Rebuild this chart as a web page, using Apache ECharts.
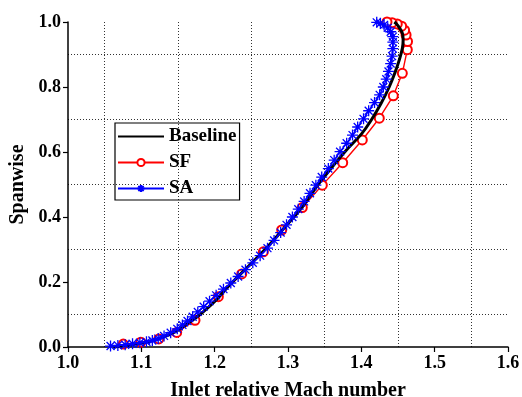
<!DOCTYPE html>
<html>
<head>
<meta charset="utf-8">
<script src="https://cdn.jsdelivr.net/npm/echarts@6/dist/echarts.min.js"></script>
<style>html,body{margin:0;padding:0;background:#fff}#c{width:522px;height:397px}</style>
</head>
<body>
<div id="c"></div>
<script>
const xTicks = [1.0, 1.1, 1.2, 1.3, 1.4, 1.5, 1.6];
const yTicks = [0.0, 0.2, 0.4, 0.6, 0.8, 1.0];
const seriesNames = ['Baseline', 'SF', 'SA'];

const baselineMach = [1.062,1.075,1.09,1.105,1.12,1.135,1.15,1.165,1.18,1.2,1.22,1.24,1.26,1.28,1.30,1.32,1.341,1.36,1.38,1.40,1.414,1.427,1.438,1.446,1.452,1.456,1.457,1.456,1.452,1.448,1.445];
const baselineSpan = [0.0,0.003,0.008,0.014,0.022,0.035,0.052,0.075,0.1,0.14,0.19,0.235,0.28,0.328,0.38,0.432,0.5,0.553,0.607,0.655,0.70,0.75,0.80,0.845,0.885,0.92,0.945,0.965,0.982,0.994,1.0];

const sfMach = [1.0754,1.0993,1.1238,1.1482,1.1732,1.205,1.2369,1.2664,1.2914,1.3195,1.3468,1.3746,1.4013,1.4245,1.4436,1.4559,1.4627,1.463,1.461,1.459,1.455,1.449,1.442,1.435];
const sfSpan = [0.009,0.015,0.025,0.045,0.082,0.155,0.225,0.293,0.36,0.429,0.498,0.567,0.637,0.704,0.773,0.842,0.915,0.94,0.96,0.975,0.987,0.994,0.998,1.0];

const saMach = [1.058,1.068,1.078,1.088,1.098,1.107,1.115,1.123,1.131,1.140,1.149,1.156,1.163,1.170,1.177,1.185,1.193,1.202,1.212,1.222,1.232,1.242,1.252,1.262,1.272,1.281,1.290,1.298,1.306,1.314,1.322,1.330,1.338,1.346,1.355,1.363,1.371,1.380,1.388,1.395,1.403,1.410,1.418,1.425,1.430,1.434,1.437,1.440,1.442,1.443,1.443,1.443,1.440,1.436,1.431,1.426,1.421];
const saSpan = [0.003,0.005,0.007,0.010,0.013,0.016,0.020,0.026,0.034,0.044,0.056,0.068,0.080,0.093,0.108,0.124,0.141,0.159,0.178,0.197,0.217,0.238,0.259,0.281,0.304,0.328,0.352,0.376,0.400,0.424,0.448,0.473,0.498,0.523,0.549,0.575,0.601,0.627,0.652,0.677,0.702,0.727,0.752,0.776,0.800,0.824,0.848,0.872,0.895,0.918,0.938,0.955,0.970,0.982,0.991,0.996,0.999];

const zip = (a, b) => a.map((v, i) => [v, b[i]]);
const FONT = '"Liberation Serif", "Times New Roman", serif';
const asterisk = 'path://M0,-5L0,5M-5,0L5,0M-3.6,-3.6L3.6,3.6M-3.6,3.6L3.6,-3.6';

const chart = echarts.init(document.getElementById('c'), null, {renderer: 'canvas'});
chart.setOption({
  animation: false,
  backgroundColor: '#fff',
  grid: {left: 68, right: 14, top: 22, bottom: 50, containLabel: false, outerBoundsMode: 'none'},
  legend: {
    orient: 'vertical', left: 115, top: 123,
    data: [
      {name: seriesNames[0], itemStyle: {opacity: 0}},
      seriesNames[1],
      seriesNames[2]
    ],
    borderColor: '#000', borderWidth: 1.2, borderRadius: 0,
    padding: [4, 3, 2, 2], itemGap: 7, itemWidth: 46, itemHeight: 9,
    textStyle: {fontFamily: FONT, fontWeight: 'bold', fontSize: 19, color: '#000', lineHeight: 18}
  },
  xAxis: {
    type: 'value', min: xTicks[0], max: xTicks[xTicks.length - 1], interval: 0.1,
    name: 'Inlet relative Mach number', nameLocation: 'middle', nameGap: 34,
    nameTextStyle: {fontFamily: FONT, fontWeight: 'bold', fontSize: 20, color: '#000'},
    axisLine: {show: true, onZero: false, lineStyle: {color: '#000', width: 1.5}},
    axisTick: {show: true, inside: false, length: 5, lineStyle: {color: '#000', width: 1.2}},
    axisLabel: {fontFamily: FONT, fontWeight: 'bold', fontSize: 18, color: '#000', margin: 7, formatter: v => v.toFixed(1)},
    splitLine: {show: false},
    minorTick: {show: false, splitNumber: 2},
    minorSplitLine: {show: true, lineStyle: {color: '#333', width: 1, type: [1, 2]}}
  },
  yAxis: {
    type: 'value', min: yTicks[0], max: yTicks[yTicks.length - 1], interval: 0.2,
    name: 'Spanwise', nameLocation: 'middle', nameGap: 40,
    nameTextStyle: {fontFamily: FONT, fontWeight: 'bold', fontSize: 20, color: '#000'},
    axisLine: {show: true, onZero: false, lineStyle: {color: '#000', width: 1.5}},
    axisTick: {show: true, inside: false, length: 5, lineStyle: {color: '#000', width: 1.2}},
    axisLabel: {fontFamily: FONT, fontWeight: 'bold', fontSize: 18, color: '#000', margin: 7, formatter: v => v.toFixed(1)},
    splitLine: {show: false},
    minorTick: {show: false, splitNumber: 2},
    minorSplitLine: {show: true, lineStyle: {color: '#333', width: 1, type: [1, 2]}}
  },
  series: [
    {
      name: seriesNames[0], type: 'line', data: zip(baselineMach, baselineSpan),
      smooth: 0.4, showSymbol: false, symbol: 'none', clip: false,
      lineStyle: {color: '#000', width: 3}, itemStyle: {color: '#000'}, z: 3
    },
    {
      name: seriesNames[1], type: 'line', data: zip(sfMach, sfSpan),
      symbol: 'emptyCircle', symbolSize: 9, showAllSymbol: true, clip: false,
      lineStyle: {color: '#ff0000', width: 1.4},
      itemStyle: {color: '#ff0000', borderColor: '#ff0000', borderWidth: 1.2}, z: 2
    },
    {
      name: seriesNames[2], type: 'line', data: zip(saMach, saSpan),
      symbol: asterisk, symbolSize: 11, showAllSymbol: true, clip: false,
      lineStyle: {color: '#0000ff', width: 1.4},
      itemStyle: {color: '#0000ff', borderColor: '#0000ff', borderWidth: 1.3}, z: 4
    }
  ]
});
</script>
</body>
</html>
